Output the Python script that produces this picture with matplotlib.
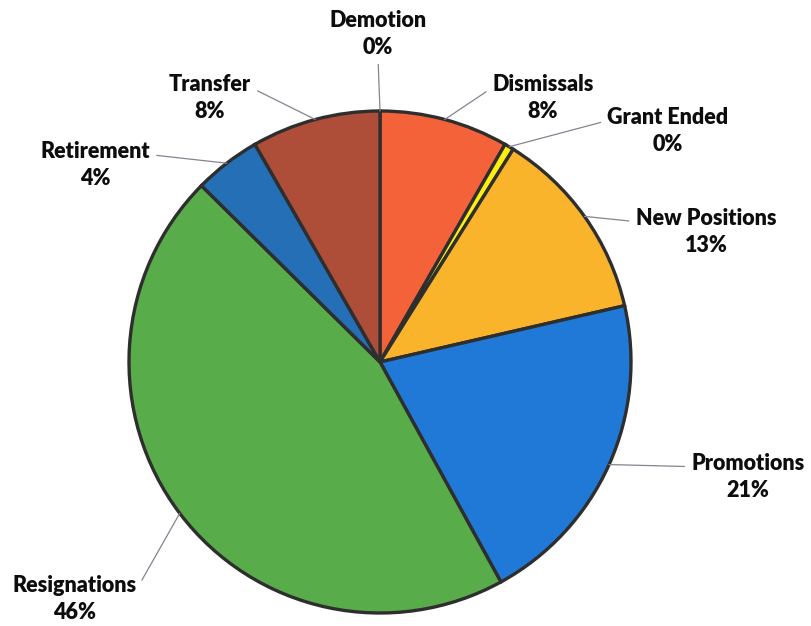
import matplotlib.pyplot as plt
import numpy as np

# slices clockwise from 12 o'clock
categories = ["Demotion", "Dismissals", "Grant Ended", "New Positions",
              "Promotions", "Resignations", "Retirement", "Transfer"]
shares = [0, 8.3, 0.6, 12.5, 20.6, 45.4, 4.3, 8.3]
pct_labels = [0, 8, 0, 13, 21, 46, 4, 8]
colors = ["#888888", "#F4623A", "#FFEE10", "#F9B42C",
          "#2079D6", "#58AC4A", "#246FB5", "#AE4E38"]

# label centres in pixel coordinates (top-left origin), and where the leader leaves the text
label_pos = {
    "Demotion": (378, 34, (0.5, 0.0)),
    "Dismissals": (543, 98, (0.0, 0.72)),
    "Grant Ended": (668, 131, (0.0, 0.72)),
    "New Positions": (706, 232, (0.0, 0.72)),
    "Promotions": (748, 477, (0.0, 0.72)),
    "Resignations": (75, 599, (1.0, 0.72)),
    "Retirement": (95, 165, (1.0, 0.72)),
    "Transfer": (210, 98, (1.0, 0.72)),
}

W, H = 811, 626
cx, cy, r = 380, 362, 251

fig = plt.figure(figsize=(W / 100, H / 100), dpi=100)
ax = fig.add_axes([0, 0, 1, 1])

wedges, _ = ax.pie(shares, colors=colors, startangle=90, counterclock=False,
                   center=(cx, H - cy), radius=r,
                   wedgeprops=dict(edgecolor="#2e2e2e", linewidth=2.4))

ax.set_xlim(0, W)
ax.set_ylim(0, H)
ax.set_aspect("equal")
ax.axis("off")

for w, name, pct in zip(wedges, categories, pct_labels):
    mid = np.deg2rad((w.theta1 + w.theta2) / 2)
    ex = cx + r * np.cos(mid)
    ey = (H - cy) + r * np.sin(mid)
    tx, ty, rel = label_pos[name]
    ax.annotate(f"{name}\n{pct}%", xy=(ex, ey), xytext=(tx, H - ty),
                ha="center", va="center", fontsize=15.5, fontweight="heavy",
                family="Lato", linespacing=1.3, color="#0d0d0d",
                arrowprops=dict(arrowstyle="-", color="#8a8090", lw=0.9,
                                relpos=rel, shrinkA=3, shrinkB=0))

fig.savefig("out.png", dpi=100)
